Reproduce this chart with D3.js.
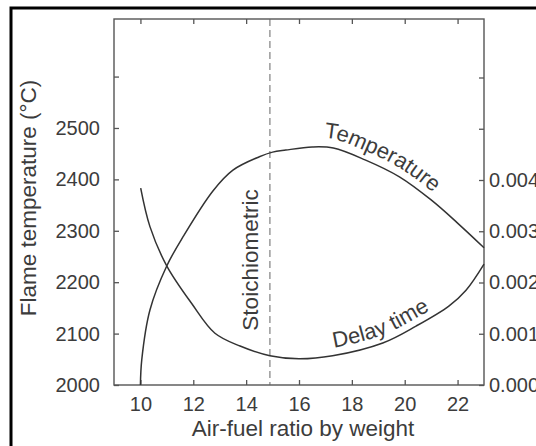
<!DOCTYPE html>
<html>
<head>
<meta charset="utf-8">
<script src="https://cdn.jsdelivr.net/npm/d3@7"></script>
<style>
  body { margin: 0; background: #fff; }
  svg text { font-family: "Liberation Sans", Arial, sans-serif; fill: #3c3c3c; }
</style>
</head>
<body>
<div class="chart"></div>
<script>
// air-fuel ratio vs flame temperature (left axis)
const tempX = [10.0, 10.05, 10.36, 11.0, 11.62, 12.75, 13.5, 14.5, 15.0, 15.5, 16.5, 17.3, 18.5, 19.8, 21.0, 22.0, 23.0];
const tempY = [2000, 2049, 2146, 2232, 2289, 2378, 2418, 2444, 2453, 2457, 2463, 2461, 2438, 2405, 2360, 2315, 2267];
// air-fuel ratio vs delay time (right axis)
const delayX = [10.01, 10.36, 11.0, 11.94, 12.82, 13.77, 14.9, 16.0, 17.27, 19.17, 20.43, 21.67, 22.32, 23.0];
const delayY = [0.00384, 0.00309, 0.00232, 0.00159, 0.00101, 0.00076, 0.00057, 0.00051, 0.00057, 0.00082, 0.00115, 0.00154, 0.00185, 0.00236];
const xTicks = [10, 12, 14, 16, 18, 20, 22];
const leftTicks = [2000, 2100, 2200, 2300, 2400, 2500, 2600];
const leftLabels = [2000, 2100, 2200, 2300, 2400, 2500];
const rightTicks = [0, 0.001, 0.002, 0.003, 0.004, 0.005, 0.006];
const rightLabels = [0, 0.001, 0.002, 0.003, 0.004];
const stoich = 14.9;

const W = 536, H = 446;
const margin = ({top: 19, right: 52, bottom: 61, left: 114});
const width = W - margin.left - margin.right,
    height = H - margin.top - margin.bottom;

const svg = d3.select('.chart').append('svg')
    .attr('width', W)
    .attr('height', H);

// outer frame (runs off the right and bottom edge)
svg.append('path')
    .attr('d', `M11,${H + 5}V8H${W + 5}`)
    .attr('fill', 'none')
    .attr('stroke', '#000')
    .attr('stroke-width', 3);

const g = svg.append('g')
    .attr('transform', `translate(${margin.left},${margin.top})`);

const xScale = d3.scaleLinear().domain([9, 23]).range([0, width]);
const yScale = d3.scaleLinear().domain([2000, 2712]).range([height, 0]);
const y2Scale = d3.scaleLinear().domain([0, 0.004]).range([height, height - 205]);

const fs = 20, fsBig = 22.5;
function styleAxis(sel) {
    sel.select('.domain').remove();
    sel.selectAll('.tick line').attr('stroke', '#555').attr('stroke-width', 1.3);
    sel.selectAll('.tick text').attr('font-size', fs).attr('fill', '#3c3c3c');
}

g.append('g')
    .attr('transform', `translate(0,${height})`)
    .call(d3.axisBottom(xScale).tickValues(xTicks).tickSize(-5).tickPadding(12))
    .call(styleAxis);
g.append('g')
    .call(d3.axisTop(xScale).tickValues(xTicks).tickSize(-5).tickFormat(''))
    .call(styleAxis);
g.append('g')
    .call(d3.axisLeft(yScale).tickValues(leftTicks).tickSize(-5).tickPadding(14)
        .tickFormat(d => leftLabels.includes(d) ? d : ''))
    .call(styleAxis);
g.append('g')
    .attr('transform', `translate(${width},0)`)
    .call(d3.axisRight(y2Scale).tickValues(rightTicks).tickSize(-5).tickPadding(5)
        .tickFormat(d => rightLabels.includes(d) ? d3.format('.3f')(d) : ''))
    .call(styleAxis);

// plot box
g.append('rect')
    .attr('width', width)
    .attr('height', height)
    .attr('fill', 'none')
    .attr('stroke', '#555')
    .attr('stroke-width', 1.4);

// stoichiometric line
g.append('line')
    .attr('x1', xScale(stoich)).attr('x2', xScale(stoich))
    .attr('y1', 0).attr('y2', height)
    .attr('stroke', '#666')
    .attr('stroke-width', 1)
    .attr('stroke-dasharray', '7,4');
g.append('text')
    .text('Stoichiometric')
    .attr('font-size', fsBig)
    .attr('text-anchor', 'middle')
    .attr('transform', `translate(${xScale(stoich) - 12},${241}) rotate(-90)`);

const tempData = tempX.map((x, i) => [x, tempY[i]]);
const delayData = delayX.map((x, i) => [x, delayY[i]]);

const tempLine = d3.line().x(d => xScale(d[0])).y(d => yScale(d[1])).curve(d3.curveCatmullRom);
const delayLine = d3.line().x(d => xScale(d[0])).y(d => y2Scale(d[1])).curve(d3.curveCatmullRom);

g.append('path').attr('d', tempLine(tempData))
    .attr('fill', 'none').attr('stroke', '#333').attr('stroke-width', 1.5);
g.append('path').attr('d', delayLine(delayData))
    .attr('fill', 'none').attr('stroke', '#333').attr('stroke-width', 1.5);

// curve labels on shifted guide paths
function curveLabel(id, line, data, shift, startPx, label) {
    const p = g.append('path')
        .attr('id', id)
        .attr('d', line(data))
        .attr('fill', 'none');
    const node = p.node();
    const total = node.getTotalLength();
    let lo = 0, hi = total;
    for (let k = 0; k < 30; k++) {
        const mid = (lo + hi) / 2;
        if (node.getPointAtLength(mid).x < startPx) lo = mid; else hi = mid;
    }
    g.append('text')
        .attr('font-size', 22)
        .attr('transform', `translate(0,${shift})`)
        .append('textPath')
        .attr('href', '#' + id)
        .attr('startOffset', lo)
        .text(label);
}
curveLabel('tpath', tempLine, tempData, -9, 324 - margin.left, 'Temperature');
curveLabel('dpath', delayLine, delayData, -8, 334 - margin.left, 'Delay time');

// axis titles
svg.append('text')
    .text('Flame temperature (°C)')
    .attr('font-size', fsBig)
    .attr('text-anchor', 'middle')
    .attr('transform', `translate(36,198) rotate(-90)`);
svg.append('text')
    .text('Air-fuel ratio by weight')
    .attr('font-size', fsBig)
    .attr('text-anchor', 'middle')
    .attr('x', 303)
    .attr('y', 436);
</script>
</body>
</html>
